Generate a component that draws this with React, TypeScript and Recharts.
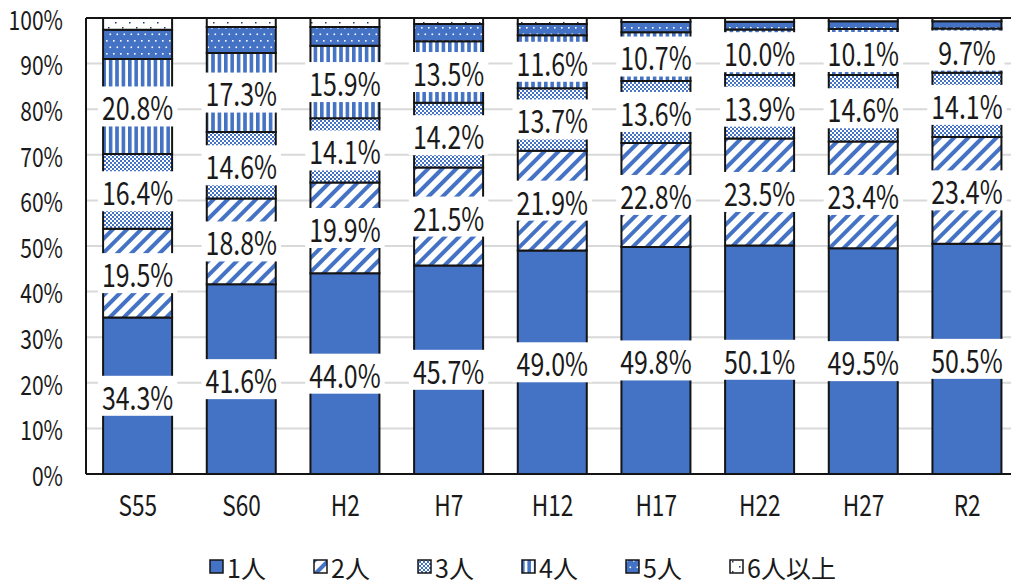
import React from "react";
import {
  BarChart,
  Bar,
  XAxis,
  YAxis,
  CartesianGrid,
  ReferenceLine,
  LabelList,
} from "recharts";

const categories = ["S55", "S60", "H2", "H7", "H12", "H17", "H22", "H27", "R2"];
const one = [34.3, 41.6, 44.0, 45.7, 49.0, 49.8, 50.1, 49.5, 50.5];
const two = [19.5, 18.8, 19.9, 21.5, 21.9, 22.8, 23.5, 23.4, 23.4];
const three = [16.4, 14.6, 14.1, 14.2, 13.7, 13.6, 13.9, 14.6, 14.1];
const four = [20.8, 17.3, 15.9, 13.5, 11.6, 10.7, 10.0, 10.1, 9.7];
const five = [6.4, 5.7, 4.1, 3.8, 2.5, 2.2, 1.7, 1.7, 1.6];
const sixPlus = [2.6, 2.0, 2.0, 1.3, 1.3, 0.9, 0.8, 0.7, 0.7];
const yTicks = [0, 10, 20, 30, 40, 50, 60, 70, 80, 90, 100];

const seriesNames = ["1人", "2人", "3人", "4人", "5人", "6人以上"];
const seriesKeys = ["p1", "p2", "p3", "p4", "p5", "p6"];

const data = categories.map((c, i) => ({
  name: c,
  p1: one[i],
  p2: two[i],
  p3: three[i],
  p4: four[i],
  p5: five[i],
  p6: sixPlus[i],
}));

const BLUE = "#4472C4";
const EDGE = "#141414";
const INK = "#1a1a1a";
const FONT = "'Noto Sans CJK JP', 'Noto Sans', sans-serif";
const SQUEEZE = 0.78;
const fills = ["url(#pat1)", "url(#pat2)", "url(#pat3)", "url(#pat4)", "url(#pat5)", "url(#pat6)"];

// narrow text: the reference uses a condensed face we don't have, so squash horizontally
const Narrow = ({ x, y, anchor, size, baseline, children }: any) => (
  <g transform={`translate(${x},${y})`}>
    <text
      transform={`scale(${SQUEEZE},1)`}
      textAnchor={anchor}
      dominantBaseline={baseline}
      fontSize={size}
      fontFamily={FONT}
      fill={INK}
    >
      {children}
    </text>
  </g>
);

const YTick = (props: any) => {
  const { x, y, payload } = props;
  return <Narrow x={x} y={y} anchor="end" size={27} baseline="central">{`${payload.value}%`}</Narrow>;
};

const XTick = (props: any) => {
  const { x, y, payload } = props;
  return (
    <g transform={`translate(${x},${y})`}>
      <text transform={`scale(${SQUEEZE},1)`} textAnchor="middle" dy="0.71em" fontSize={29} fontFamily={FONT} fill={INK}>
        {payload.value}
      </text>
    </g>
  );
};

const BoxLabel = (props: any) => {
  const { x, y, width, height, value } = props;
  const txt = `${Number(value).toFixed(1)}%`;
  const digits = txt.length - 2;
  const textW = (digits * 0.55 + 0.27 + 0.86) * 32 * SQUEEZE + 10;
  const w = Math.max(textW, Number(width) + 6);
  const cx = Number(x) + Number(width) / 2;
  const cy = Number(y) + Number(height) / 2;
  return (
    <g>
      <rect x={cx - w / 2} y={cy - 20} width={w} height={40} fill="#fff" />
      <Narrow x={cx} y={cy} anchor="middle" size={32} baseline="central">{txt}</Narrow>
    </g>
  );
};

const Legendish = () => (
  <div
    style={{
      position: "absolute",
      left: 209,
      top: 554,
      display: "flex",
      alignItems: "center",
      fontFamily: FONT,
      fontSize: 25,
      lineHeight: "26px",
      color: INK,
      whiteSpace: "nowrap",
    }}
  >
    {seriesNames.map((n, i) => (
      <div key={n} style={{ width: i < 5 ? 104 : 120, display: "flex", alignItems: "center" }}>
        <svg width={16} height={16} style={{ marginRight: 2 }}>
          <rect x={1} y={1} width={13} height={13} fill={fills[i]} stroke={EDGE} strokeWidth={1.5} />
        </svg>
        <span>{n}</span>
      </div>
    ))}
  </div>
);

export default function App() {
  return (
    <div style={{ position: "absolute", left: 0, top: 0, width: 1011, height: 583, overflow: "hidden", background: "#fff" }}>
      <BarChart
        width={1030}
        height={583}
        data={data}
        margin={{ top: 18, right: 11, left: 0, bottom: 45 }}
        barCategoryGap="16.5%"
      >
        <defs>
          <pattern id="pat1" patternUnits="userSpaceOnUse" width={4} height={4}>
            <rect width={4} height={4} fill={BLUE} />
          </pattern>
          <pattern id="pat2" patternUnits="userSpaceOnUse" width={10} height={10} patternTransform="rotate(45)">
            <rect width={10} height={10} fill="#fff" />
            <rect x={0} y={0} width={4} height={10} fill={BLUE} />
          </pattern>
          <pattern id="pat3" patternUnits="userSpaceOnUse" width={4} height={4}>
            <rect width={4} height={4} fill="#fff" />
            <rect x={0} y={0} width={2} height={2} fill={BLUE} />
            <rect x={2} y={2} width={2} height={2} fill={BLUE} />
          </pattern>
          <pattern id="pat4" patternUnits="userSpaceOnUse" width={6.4} height={6}>
            <rect width={6.4} height={6} fill="#fff" />
            <rect x={0} y={0} width={3.6} height={6} fill={BLUE} />
          </pattern>
          <pattern id="pat5" patternUnits="userSpaceOnUse" width={7} height={13}>
            <rect width={7} height={13} fill={BLUE} />
            <rect x={1} y={1} width={1.6} height={1.6} fill="#fff" />
            <rect x={4.5} y={7.5} width={1.6} height={1.6} fill="#fff" />
          </pattern>
          <pattern id="pat6" patternUnits="userSpaceOnUse" width={14} height={10}>
            <rect width={14} height={10} fill="#fff" />
            <rect x={3} y={2} width={1.5} height={1.5} fill="#1f3763" />
            <rect x={10} y={7} width={1.5} height={1.5} fill="#1f3763" />
          </pattern>
        </defs>
        <CartesianGrid vertical={false} stroke="#D9D9D9" strokeWidth={2} />
        <XAxis
          dataKey="name"
          axisLine={{ stroke: EDGE, strokeWidth: 2 }}
          tickLine={false}
          tickSize={0}
          tickMargin={21}
          height={64}
          tick={<XTick />}
        />
        <YAxis
          domain={[0, 100]}
          ticks={yTicks}
          width={86}
          axisLine={{ stroke: EDGE, strokeWidth: 2 }}
          tickLine={false}
          tickSize={0}
          tickMargin={23}
          interval={0}
          tick={<YTick />}
        />
        <ReferenceLine y={100} stroke={EDGE} strokeWidth={2} />
        {seriesKeys.map((k, i) => (
          <Bar
            key={k}
            dataKey={k}
            name={seriesNames[i]}
            stackId="s"
            fill={fills[i]}
            stroke={EDGE}
            strokeWidth={2}
            isAnimationActive={false}
          >
            {i < 4 && <LabelList dataKey={k} content={<BoxLabel />} />}
          </Bar>
        ))}
      </BarChart>
      <Legendish />
    </div>
  );
}
